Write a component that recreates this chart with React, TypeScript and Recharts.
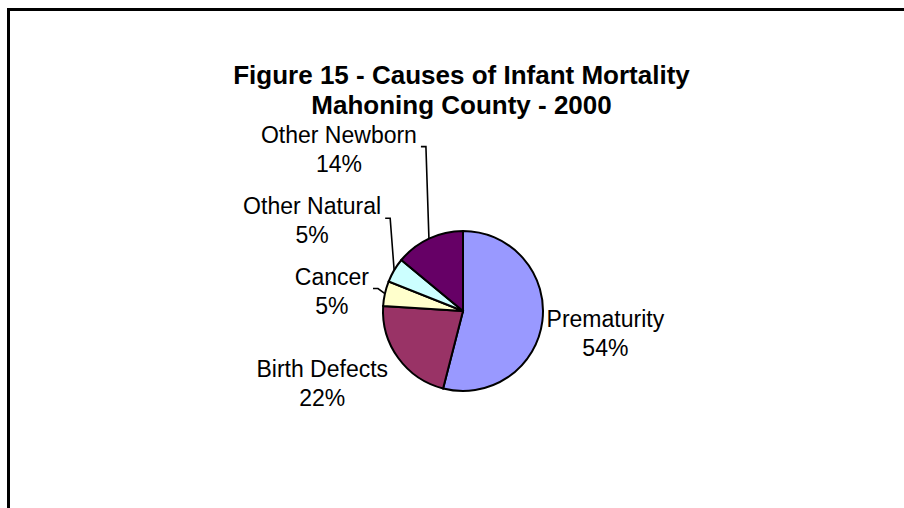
import React from "react";
import { PieChart, Pie, Cell } from "recharts";

// Causes of infant mortality, Mahoning County, 2000 (percent of deaths)
const causes = ["Prematurity", "Birth Defects", "Cancer", "Other Natural", "Other Newborn"];
const shares = [54, 22, 5, 5, 14];
const sliceColors = ["#9999FF", "#993366", "#FFFFCC", "#CCFFFF", "#660066"];
const titleLines = ["Figure 15 - Causes of Infant Mortality", "Mahoning County - 2000"];

const data = causes.map((name, i) => ({ name, value: shares[i] }));

const FONT = "'Liberation Sans', Arial, sans-serif";
const LABEL_SIZE = 23;
const LINE_GAP = 29;

// Where each label sits relative to the point on the rim at the slice's mid angle
const labelPlacement: Record<string, { dx: number; dy: number; leader: boolean }> = {
  Prematurity: { dx: 63, dy: -2, leader: false },
  "Birth Defects": { dx: -76, dy: 11, leader: false },
  Cancer: { dx: -53, dy: -17, leader: true },
  "Other Natural": { dx: -82, dy: -64, leader: true },
  "Other Newborn": { dx: -90, dy: -104, leader: true },
};

let measureCtx: CanvasRenderingContext2D | null = null;
function textWidth(s: string): number {
  if (!measureCtx) {
    const c = document.createElement("canvas");
    measureCtx = c.getContext("2d");
  }
  if (!measureCtx) return s.length * LABEL_SIZE * 0.55;
  measureCtx.font = `${LABEL_SIZE}px 'Liberation Sans'`;
  return measureCtx.measureText(s).width;
}

const RAD = Math.PI / 180;

function SliceLabel(props: any) {
  const { cx, cy, midAngle, outerRadius, name, value } = props;
  const ex = cx + outerRadius * Math.cos(-midAngle * RAD);
  const ey = cy + outerRadius * Math.sin(-midAngle * RAD);
  const place = labelPlacement[name] || { dx: 0, dy: 0, leader: false };
  const lx = ex + place.dx;
  const ly = ey + place.dy;
  let leader = null;
  if (place.leader) {
    const sx = lx + textWidth(name) / 2 + 4;
    const sy = ly + 12;
    leader = (
      <polyline
        points={`${sx},${sy} ${sx + 5},${sy} ${ex},${ey}`}
        fill="none"
        stroke="#000"
        strokeWidth={1.6}
      />
    );
  }
  return (
    <g>
      {leader}
      <text
        x={lx}
        y={ly}
        textAnchor="middle"
        dominantBaseline="central"
        fontFamily={FONT}
        fontSize={LABEL_SIZE}
        fill="#000"
      >
        {name}
      </text>
      <text
        x={lx}
        y={ly + LINE_GAP}
        textAnchor="middle"
        dominantBaseline="central"
        fontFamily={FONT}
        fontSize={LABEL_SIZE}
        fill="#000"
      >
        {`${value}%`}
      </text>
    </g>
  );
}

export default function App() {
  return (
    <div
      style={{
        position: "absolute",
        left: 0,
        top: 0,
        width: 904,
        height: 508,
        overflow: "hidden",
        background: "#fff",
      }}
    >
      <div
        style={{
          position: "absolute",
          left: 7,
          top: 8,
          width: 1000,
          height: 1000,
          border: "3px solid #000",
          boxSizing: "border-box",
        }}
      />
      <div
        style={{
          position: "absolute",
          left: 0,
          top: 60,
          width: 923,
          textAlign: "center",
          fontFamily: FONT,
          fontWeight: "bold",
          fontSize: 26,
          lineHeight: "30px",
          color: "#000",
        }}
      >
        {titleLines.map((t) => (
          <div key={t}>{t}</div>
        ))}
      </div>
      <div style={{ position: "absolute", left: 0, top: 0 }}>
        <PieChart width={904} height={508} margin={{ top: 0, right: 0, bottom: 0, left: 0 }}>
          <Pie
            data={data}
            dataKey="value"
            nameKey="name"
            cx={463}
            cy={311}
            outerRadius={80}
            startAngle={90}
            endAngle={-270}
            stroke="#000"
            strokeWidth={2}
            label={SliceLabel}
            labelLine={false}
            isAnimationActive={false}
          >
            {data.map((d, i) => (
              <Cell key={d.name} fill={sliceColors[i]} />
            ))}
          </Pie>
        </PieChart>
      </div>
    </div>
  );
}
